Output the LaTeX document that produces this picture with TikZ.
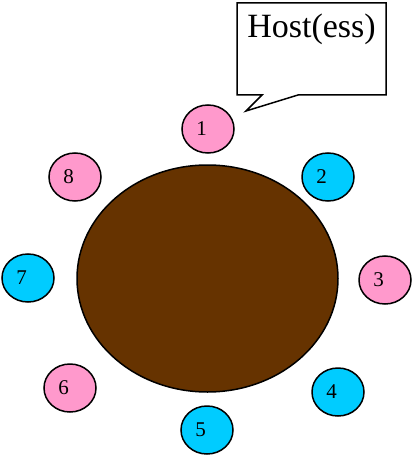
\documentclass[tikz,border=0pt]{standalone}
\usepackage{fontspec}
\setmainfont{Liberation Serif}
\usetikzlibrary{shapes.geometric}

\definecolor{seatpink}{HTML}{FF99CC}
\definecolor{seatblue}{HTML}{00CCFF}
\definecolor{tablebrown}{HTML}{663300}

\tikzset{
    seat/.style={ellipse, draw, line width=1.5pt, minimum width=52pt,
        minimum height=48pt, inner sep=0pt, font=\fontsize{21}{21}\selectfont,
        execute at begin node={\hspace*{-13pt}}},
    pinkseat/.style={seat, fill=seatpink},
    blueseat/.style={seat, fill=seatblue}
}

\begin{document}
\begin{tikzpicture}[x=1pt, y=-1pt]
    \useasboundingbox (0,0) rectangle (413,457);

    % Table
    \node[ellipse, draw, line width=1.5pt, fill=tablebrown,
        minimum width=261pt, minimum height=227pt] (table) at (207.5,278.5) {};

    % Seats round the table
    \node[pinkseat] (seat1) at (208,129) {1};
    \node[blueseat] (seat2) at (328,177) {2};
    \node[pinkseat] (seat3) at (385,280) {3};
    \node[blueseat] (seat4) at (338,392) {4};
    \node[blueseat] (seat5) at (207,430) {5};
    \node[pinkseat] (seat6) at (70,388) {6};
    \node[blueseat] (seat7) at (28,278) {7};
    \node[pinkseat] (seat8) at (75,177) {8};

    % Callout
    \coordinate (tip) at (246,111);
    \draw[line width=1.5pt, fill=white, line join=miter]
        (237,3) -- (386,3) -- (386,95) -- (298,95) -- (tip)
        -- (262,95) -- (237,95) -- cycle;
    \node[anchor=north, inner sep=0pt, font=\fontsize{34}{34}\selectfont]
        (host) at (311.5,14) {Host(ess)};
\end{tikzpicture}
\end{document}
